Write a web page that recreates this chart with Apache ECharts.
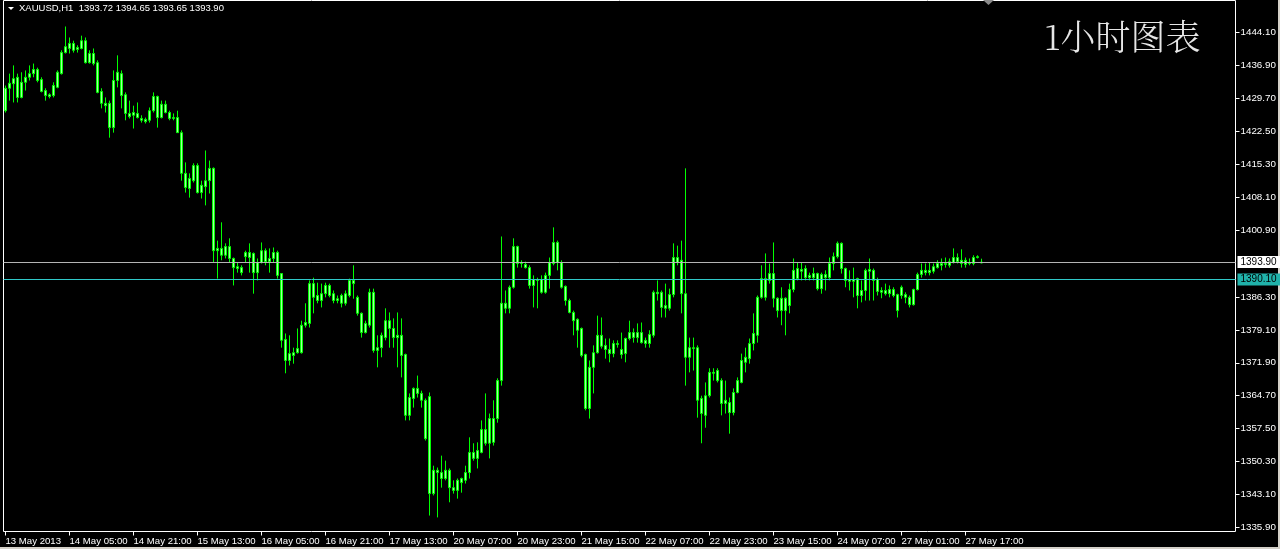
<!DOCTYPE html>
<html><head><meta charset="utf-8">
<script src="https://cdn.jsdelivr.net/npm/echarts@6/dist/echarts.min.js"></script>
<style>html,body{margin:0;padding:0;background:#000;overflow:hidden}#c{width:1280px;height:549px}</style>
</head><body><div id="c"></div>
<script>
const symbolName = 'XAUUSD,H1';
const chartTitle = '1小时图表';
const hLineLevel = 1390.10;
const opens = [
1427.0,1431.9,1432.9,1434.3,1429.9,1433.2,1434.3,1435.1,1436.0,1433.8,
1431.4,1430.5,1430.3,1432.1,1435.1,1439.7,1440.6,1441.7,1440.8,1440.6,
1442.3,1437.5,1439.5,1437.5,1431.2,1428.6,1428.6,1423.3,1433.6,1435.1,
1430.5,1426.4,1426.0,1426.4,1425.3,1424.6,1424.9,1427.0,1430.1,1425.5,
1428.4,1426.6,1425.3,1425.5,1422.2,1413.3,1410.0,1411.7,1415.0,1409.1,
1410.4,1411.7,1414.4,1396.4,1396.9,1395.4,1397.3,1394.7,1392.9,1391.6,
1395.1,1396.0,1395.8,1391.6,1393.8,1396.4,1394.0,1394.7,1396.0,1391.4,
1377.0,1372.4,1373.5,1374.1,1374.1,1380.1,1380.5,1389.2,1386.6,1385.5,
1387.0,1388.8,1387.0,1385.5,1386.6,1384.9,1386.6,1389.9,1386.2,1382.7,
1378.5,1380.1,1387.3,1374.6,1375.2,1377.4,1381.1,1379.4,1377.4,1377.9,
1373.7,1360.4,1364.1,1366.3,1365.2,1363.7,1364.5,1343.3,1348.4,1347.9,
1346.6,1348.4,1344.6,1344.0,1345.7,1346.2,1347.9,1352.3,1351.0,1352.3,
1357.3,1354.3,1354.5,1359.7,1368.0,1384.9,1383.8,1388.4,1397.3,1393.6,
1393.4,1392.7,1388.8,1390.1,1390.1,1387.3,1391.0,1393.6,1398.2,1393.8,
1388.6,1385.5,1382.9,1381.4,1379.4,1373.7,1361.9,1370.9,1374.1,1377.9,
1375.7,1374.8,1373.9,1376.1,1374.8,1373.9,1377.2,1378.5,1377.4,1378.5,
1376.8,1376.1,1377.9,1387.3,1387.3,1383.8,1383.8,1386.8,1394.9,1394.3,
1387.0,1373.1,1375.2,1375.2,1364.1,1360.4,1364.7,1369.8,1370.2,1368.0,
1363.0,1363.2,1361.0,1365.4,1367.6,1372.0,1372.8,1376.1,1377.9,1386.2,
1390.3,1389.9,1391.4,1386.0,1383.3,1386.0,1384.4,1387.9,1392.5,1391.9,
1392.5,1390.5,1391.4,1391.4,1388.1,1391.2,1390.5,1393.6,1395.1,1398.0,
1392.5,1389.7,1390.1,1390.3,1386.6,1387.7,1391.9,1392.1,1390.1,1387.3,
1387.7,1387.0,1387.9,1386.8,1386.6,1386.8,1386.2,1384.6,1387.9,1391.2,
1392.1,1391.6,1391.9,1392.7,1393.6,1393.4,1393.2,1393.8,1394.9,1393.6,
1394.3,1393.6,1393.6,1394.9,1393.72];
const closes = [
1431.9,1433.0,1434.0,1429.9,1433.2,1434.3,1435.1,1436.0,1433.6,1431.2,
1430.3,1430.1,1432.5,1435.4,1439.7,1441.0,1441.7,1440.2,1440.4,1442.3,
1437.5,1439.5,1437.3,1431.0,1428.6,1428.1,1423.3,1433.6,1435.4,1430.3,
1426.4,1425.7,1426.6,1425.5,1424.9,1425.1,1427.0,1430.1,1425.5,1428.4,
1426.6,1425.3,1425.5,1422.2,1413.3,1410.2,1412.2,1415.0,1409.1,1410.7,
1411.7,1414.4,1396.4,1396.9,1395.4,1397.3,1394.7,1392.7,1392.5,1392.7,
1396.0,1394.9,1391.6,1393.8,1396.4,1394.0,1394.7,1396.0,1391.0,1376.8,
1372.4,1373.9,1374.1,1375.0,1380.1,1380.7,1389.2,1386.2,1385.5,1387.0,
1388.8,1386.6,1385.5,1385.9,1384.9,1387.0,1389.9,1389.2,1382.7,1378.5,
1380.5,1387.3,1374.6,1375.2,1377.9,1381.1,1379.4,1377.4,1377.9,1373.5,
1360.4,1364.3,1366.3,1365.2,1363.7,1355.3,1343.3,1348.4,1347.9,1346.6,
1348.4,1344.6,1344.0,1346.2,1346.6,1347.9,1352.3,1351.0,1352.7,1357.3,
1354.3,1359.7,1359.7,1368.0,1384.9,1383.8,1388.4,1397.3,1393.6,1393.8,
1392.7,1388.8,1390.1,1389.9,1387.3,1391.0,1393.8,1398.2,1393.8,1388.4,
1385.5,1382.9,1381.1,1379.0,1373.5,1361.9,1370.9,1374.1,1377.9,1375.5,
1374.8,1373.9,1376.1,1375.9,1373.7,1377.2,1378.5,1377.4,1378.5,1376.3,
1376.1,1378.1,1387.3,1387.0,1384.0,1384.4,1386.8,1394.9,1393.8,1387.0,
1373.1,1375.2,1375.0,1363.7,1360.8,1364.7,1369.8,1369.6,1368.0,1363.0,
1363.7,1361.0,1365.4,1368.0,1372.4,1373.1,1376.1,1378.3,1386.2,1390.3,
1386.2,1391.4,1386.0,1383.3,1386.0,1383.3,1387.9,1392.1,1390.3,1392.3,
1390.5,1391.0,1390.5,1388.1,1391.2,1390.5,1393.6,1395.1,1398.0,1392.5,
1389.9,1390.1,1389.7,1386.6,1387.7,1392.1,1392.3,1389.9,1387.5,1387.7,
1387.0,1387.9,1386.6,1383.3,1388.4,1386.2,1384.6,1387.9,1391.2,1392.1,
1391.6,1392.1,1392.9,1393.6,1393.2,1393.6,1394.0,1394.9,1394.0,1394.3,
1393.4,1393.8,1394.9,1395.1,1393.90];
const lows = [
1426.6,1429.2,1428.8,1428.8,1429.7,1431.4,1433.6,1434.3,1433.2,1431.0,
1429.2,1429.7,1429.9,1431.9,1434.9,1439.5,1439.5,1439.7,1439.7,1440.4,
1437.3,1437.3,1436.9,1430.8,1427.5,1426.6,1421.1,1422.2,1432.1,1427.5,
1424.9,1425.3,1423.1,1425.3,1424.4,1424.2,1424.4,1426.6,1423.3,1425.3,
1426.4,1424.9,1424.9,1422.2,1411.7,1409.1,1408.0,1411.3,1408.9,1407.8,
1406.3,1408.9,1393.8,1390.3,1394.3,1394.7,1393.8,1388.8,1391.6,1391.0,
1393.8,1391.6,1387.0,1389.9,1393.6,1393.2,1391.6,1393.8,1390.3,1375.2,
1369.6,1371.3,1371.7,1373.9,1373.9,1379.6,1379.6,1382.7,1384.9,1384.0,
1386.2,1386.2,1384.9,1384.9,1384.0,1384.4,1386.2,1385.9,1382.2,1377.4,
1378.3,1379.6,1374.1,1370.9,1373.1,1376.8,1375.2,1375.2,1370.9,1368.7,
1359.3,1359.3,1362.1,1364.3,1362.1,1354.9,1338.5,1342.9,1338.1,1344.6,
1346.2,1341.4,1343.3,1342.2,1343.5,1345.5,1346.6,1350.5,1348.8,1352.1,
1353.8,1351.0,1353.8,1358.8,1366.9,1382.7,1382.7,1388.1,1392.7,1392.7,
1392.5,1388.1,1384.0,1383.8,1387.0,1387.0,1388.1,1393.2,1392.1,1388.1,
1384.4,1382.7,1377.9,1375.2,1373.1,1361.5,1359.7,1365.2,1373.9,1375.0,
1372.8,1372.0,1373.1,1375.2,1372.8,1372.0,1376.8,1376.3,1376.3,1376.1,
1375.2,1375.2,1377.4,1385.5,1381.8,1381.8,1383.3,1386.2,1393.2,1382.7,
1366.9,1369.8,1370.2,1359.9,1354.3,1357.7,1364.3,1368.0,1367.6,1360.4,
1360.8,1356.4,1360.4,1365.2,1367.4,1369.8,1371.7,1374.6,1376.3,1385.9,
1385.5,1389.2,1384.0,1381.8,1380.1,1377.9,1382.7,1387.3,1389.9,1389.9,
1389.9,1389.9,1389.9,1387.7,1387.0,1387.7,1389.9,1392.1,1394.7,1391.4,
1388.4,1387.7,1386.2,1383.8,1385.1,1385.5,1385.5,1385.5,1386.6,1386.0,
1386.6,1386.2,1386.2,1381.8,1385.9,1384.9,1384.0,1384.4,1387.7,1390.5,
1391.0,1391.0,1391.4,1392.5,1392.1,1392.7,1392.7,1393.6,1393.6,1392.7,
1392.7,1393.2,1393.2,1394.7,1393.65];
const highs = [
1432.5,1435.1,1436.9,1435.1,1435.4,1435.8,1436.9,1437.3,1436.4,1434.3,
1431.9,1430.8,1433.2,1435.8,1440.2,1445.4,1443.0,1442.3,1441.3,1443.4,
1443.0,1440.2,1440.6,1438.0,1431.9,1429.9,1429.2,1435.8,1439.1,1435.8,
1431.0,1429.2,1428.1,1428.8,1426.0,1425.5,1427.7,1431.0,1430.3,1429.2,
1429.2,1427.0,1426.4,1427.0,1422.7,1415.7,1413.3,1415.5,1415.5,1411.7,
1418.3,1416.1,1414.6,1398.6,1402.6,1398.0,1399.1,1394.9,1393.8,1393.2,
1396.4,1398.0,1396.0,1394.7,1398.2,1396.9,1396.9,1397.1,1396.4,1391.4,
1378.3,1377.9,1375.2,1379.4,1381.1,1384.9,1389.9,1390.5,1389.4,1389.2,
1389.4,1389.2,1387.7,1386.6,1387.0,1387.7,1390.3,1393.2,1386.6,1382.9,
1381.1,1388.1,1388.1,1377.9,1378.5,1383.8,1382.9,1381.6,1382.9,1381.6,
1373.9,1365.2,1366.5,1369.1,1365.8,1364.1,1365.4,1349.4,1349.0,1351.6,
1350.5,1348.8,1346.2,1346.6,1346.8,1349.4,1355.6,1354.3,1354.5,1359.3,
1365.2,1360.8,1363.7,1368.5,1399.5,1387.7,1388.8,1399.1,1397.5,1394.3,
1394.0,1393.2,1391.0,1390.5,1391.0,1391.6,1394.9,1401.5,1398.6,1394.3,
1388.8,1385.9,1383.3,1381.6,1379.6,1373.9,1372.4,1375.7,1382.2,1381.8,
1377.2,1377.2,1376.8,1376.8,1378.5,1377.4,1381.1,1379.4,1380.5,1380.7,
1377.4,1379.0,1387.7,1389.9,1387.7,1389.2,1388.1,1398.0,1397.5,1398.6,
1414.4,1377.4,1377.4,1375.7,1364.7,1367.6,1370.7,1370.7,1370.7,1368.5,
1368.0,1364.3,1366.3,1368.7,1373.9,1375.2,1377.2,1382.7,1386.6,1393.2,
1395.8,1393.6,1398.2,1386.2,1388.4,1386.2,1389.2,1394.7,1393.8,1393.8,
1393.2,1391.6,1392.7,1391.6,1391.6,1392.1,1394.9,1396.0,1398.4,1398.2,
1392.7,1392.1,1392.7,1390.5,1389.9,1392.5,1394.7,1392.5,1390.5,1388.4,
1389.2,1388.8,1388.4,1387.0,1388.8,1387.3,1386.6,1388.1,1391.6,1393.6,
1393.6,1393.8,1393.6,1394.3,1394.7,1394.9,1394.7,1396.9,1395.8,1396.7,
1394.9,1394.7,1395.4,1395.4,1394.65];
const tickLabels = ['13 May 2013','14 May 05:00','14 May 21:00','15 May 13:00','16 May 05:00',
  '16 May 21:00','17 May 13:00','20 May 07:00','20 May 23:00','21 May 15:00','22 May 07:00',
  '22 May 23:00','23 May 15:00','24 May 07:00','27 May 01:00','27 May 17:00'];
const tickEvery = 16;
const yTickValues = [1444.10,1436.90,1429.70,1422.50,1415.30,1408.10,1400.90,1386.30,
  1379.10,1371.90,1364.70,1357.50,1350.30,1343.10,1335.90];
const totalSlots = 308;

// hourly categories (trading hours only)
const categories = [];
(function(){
  let t = Date.UTC(2013,4,13,13);
  const p2 = n => (n<10?'0':'')+n;
  while (categories.length < opens.length) {
    const d = new Date(t), dow = d.getUTCDay(), h = d.getUTCHours();
    const closed = (dow===5 && h>21) || dow===6 || dow===0;
    if (!closed) categories.push(p2(d.getUTCDate())+' May '+p2(h)+':00');
    t += 3600000;
  }
  for (let k = categories.length; k < totalSlots; k++) categories.push('+' + k);
})();

const candleData = opens.map((o,i)=>[o, closes[i], lows[i], highs[i]]);
const last = opens.length - 1;
const headText = symbolName + '  ' + [opens[last], highs[last], lows[last], closes[last]].map(v=>v.toFixed(2)).join(' ');
const showTick = (idx) => idx % tickEvery === 0 && idx / tickEvery < tickLabels.length;
const FONT = '"Liberation Sans", Arial, sans-serif';

const chart = echarts.init(document.getElementById('c'), null, {renderer:'canvas'});
chart.setOption({
  backgroundColor: '#000',
  animation: false,
  grid: {left: 3.5, right: 44.5, top: 0.5, bottom: 17.5, show: true, borderColor: '#fff', borderWidth: 1, backgroundColor: '#000'},
  xAxis: {
    type: 'category', data: categories, boundaryGap: true,
    axisLine: {show: false},
    axisTick: {show: true, interval: showTick, alignWithLabel: true, length: 4, lineStyle: {color: '#fff'}},
    axisLabel: {interval: showTick, align: 'left', color: '#fff', fontSize: 9.6, fontFamily: FONT, margin: 5,
      formatter: (v, idx) => tickLabels[idx / tickEvery] || ''},
    splitLine: {show: false}
  },
  yAxis: {
    type: 'value', position: 'right', min: 1335.016, max: 1451.086, scale: true,
    axisLine: {show: false},
    splitLine: {show: false},
    axisTick: {show: true, customValues: yTickValues, length: 4, lineStyle: {color: '#fff'}},
    axisLabel: {customValues: yTickValues, color: '#fff', fontSize: 9.8, fontFamily: FONT, margin: 5,
      formatter: v => v.toFixed(2)}
  },
  series: [{
    type: 'candlestick',
    data: candleData,
    barWidth: 2,
    itemStyle: {color: '#A0FFA0', color0: '#A0FFA0', borderColor: '#00FF00', borderColor0: '#00FF00', borderWidth: 1},
    markLine: {
      silent: true, symbol: 'none', animation: false,
      data: [
        {yAxis: closes[last], lineStyle: {color: '#B4B4B4', width: 1, type: 'solid', opacity: 1},
          label: {show: true, position: 'end', distance: 2, formatter: p => p.value.toFixed(2),
            backgroundColor: '#fff', color: '#000', fontSize: 10, fontFamily: FONT, padding: [1,4,1,3]}},
        {yAxis: hLineLevel, lineStyle: {color: '#30C8C8', width: 1, type: 'solid', opacity: 1},
          label: {show: true, position: 'end', distance: 2, formatter: p => p.value.toFixed(2),
            backgroundColor: '#20B2AA', color: '#000', fontSize: 10, fontFamily: FONT, padding: [1,4,1,3]}}
      ]
    }
  }],
  graphic: [
    {type: 'polygon', shape: {points: [[8,7],[14,7],[11,10]]}, style: {fill: '#fff'}},
    {type: 'text', left: 19, top: 3, style: {text: headText, fill: '#fff', font: '9.5px ' + FONT}},
    {type: 'text', left: 1044, top: 19, style: {text: chartTitle, fill: '#E6E6E6', font: '300 35px "Noto Serif CJK SC", "Noto Sans CJK SC", serif'}},
    {type: 'polygon', shape: {points: [[983,0],[994,0],[988.5,5]]}, style: {fill: '#8A8A8A'}},
    {type: 'rect', shape: {x: 1278, y: 0, width: 2, height: 549}, style: {fill: '#D4D0C8'}},
    {type: 'rect', shape: {x: 0, y: 547, width: 1280, height: 2}, style: {fill: '#D4D0C8'}}
  ]
});
</script></body></html>
